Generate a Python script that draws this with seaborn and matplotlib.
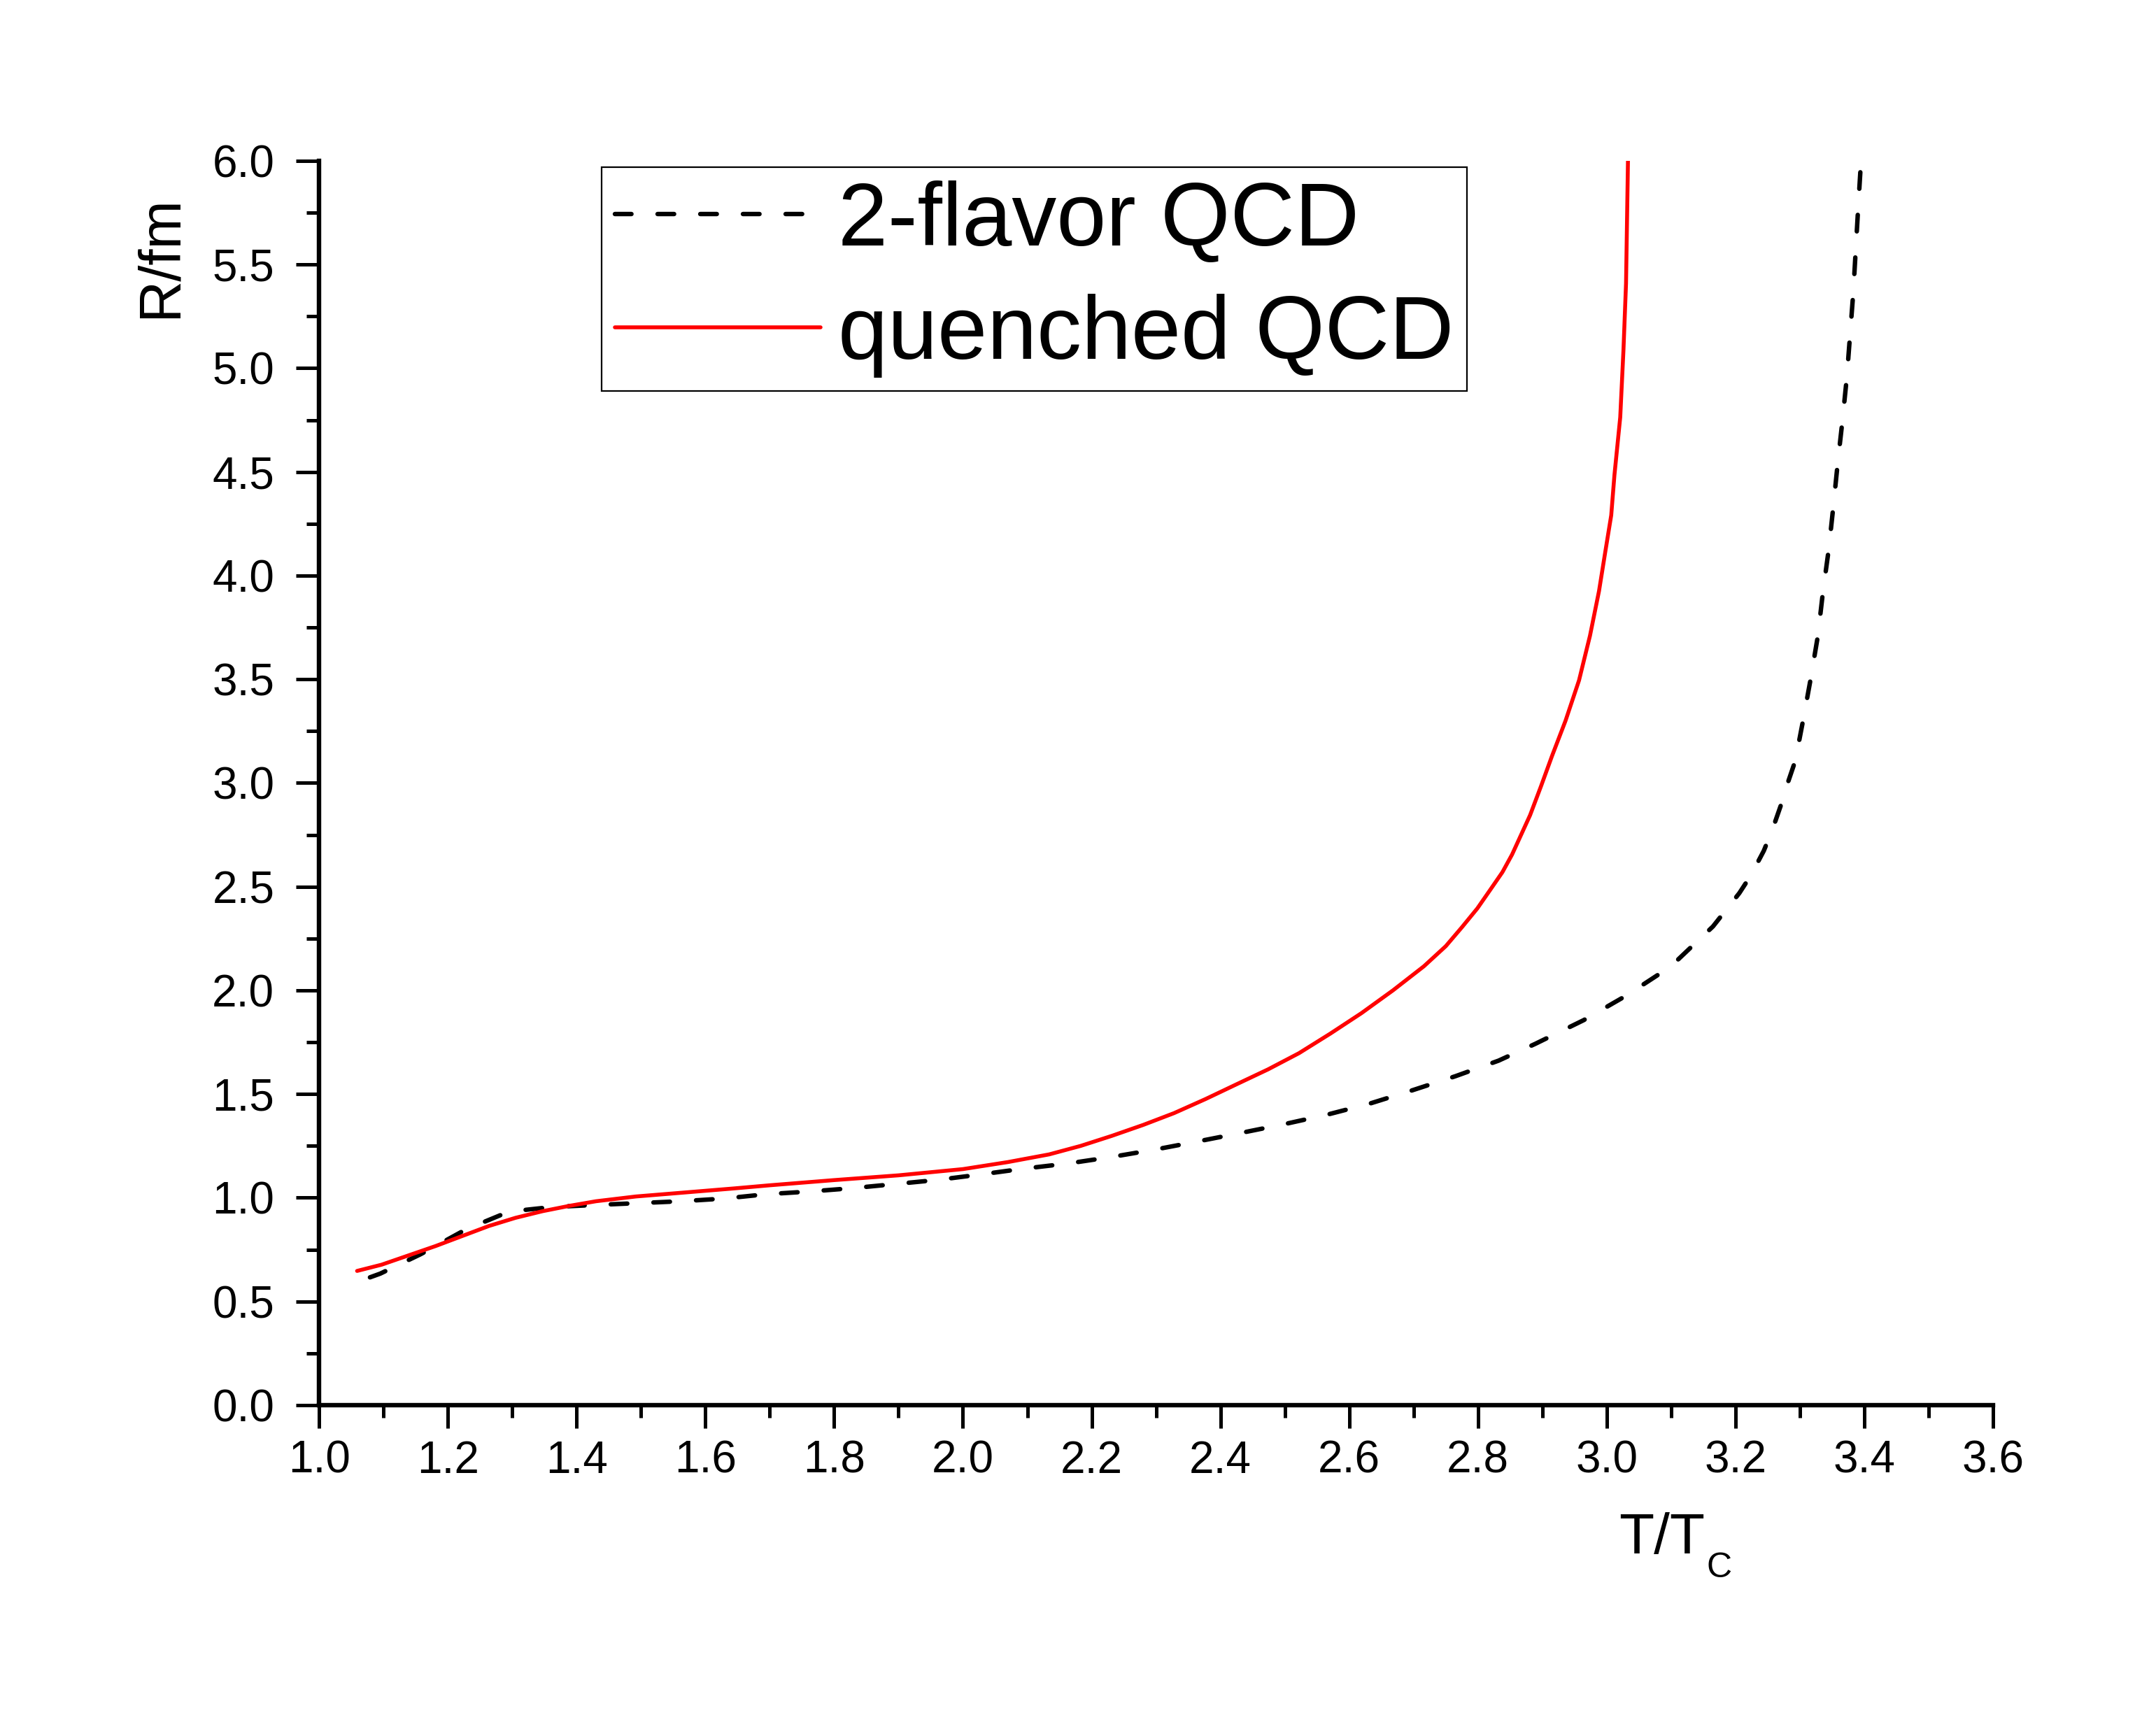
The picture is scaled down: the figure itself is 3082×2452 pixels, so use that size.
import matplotlib
matplotlib.use("Agg")
import matplotlib.pyplot as plt
import seaborn as sns
import pandas as pd
from matplotlib.ticker import MultipleLocator, FormatStrFormatter

# ---- data ----
quenched_T = [1.059, 1.097, 1.139, 1.181, 1.222, 1.264, 1.305, 1.347, 1.389, 1.430,
              1.492, 1.555, 1.645, 1.70, 1.80, 1.90, 2.00, 2.07, 2.134, 2.183, 2.231,
              2.280, 2.328, 2.377, 2.425, 2.474, 2.522, 2.571, 2.619, 2.668, 2.716,
              2.750, 2.775, 2.799, 2.818, 2.838, 2.853, 2.881, 2.898, 2.915, 2.936,
              2.957, 2.974, 2.988, 2.998, 3.007, 3.012, 3.021, 3.026, 3.030, 3.033]
quenched_R = [0.647, 0.677, 0.722, 0.767, 0.815, 0.864, 0.903, 0.935, 0.961, 0.983,
              1.006, 1.022, 1.045, 1.060, 1.085, 1.108, 1.138, 1.172, 1.209, 1.250, 1.298,
              1.351, 1.408, 1.476, 1.547, 1.619, 1.697, 1.792, 1.890, 2.000, 2.116,
              2.213, 2.304, 2.395, 2.480, 2.570, 2.655, 2.845, 2.985, 3.130, 3.300,
              3.495, 3.710, 3.925, 4.119, 4.291, 4.485, 4.764, 5.087, 5.409, 6.0]

flavor2_T = [1.079, 1.095, 1.158, 1.228, 1.295, 1.361, 1.428, 1.496, 1.562, 1.629,
             1.695, 1.762, 1.828, 1.895, 1.961, 2.027, 2.094, 2.163, 2.230, 2.298,
             2.364, 2.431, 2.498, 2.565, 2.631, 2.698, 2.765, 2.832, 2.889, 2.964,
             3.030, 3.099, 3.165, 3.206, 3.224, 3.244, 3.258, 3.270, 3.279, 3.293,
             3.305, 3.317, 3.328, 3.336, 3.345, 3.352, 3.359, 3.366, 3.373, 3.378,
             3.383, 3.387, 3.391, 3.395]
flavor2_R = [0.616, 0.634, 0.728, 0.847, 0.933, 0.955, 0.965, 0.974, 0.983, 0.996,
             1.017, 1.030, 1.046, 1.066, 1.086, 1.112, 1.140, 1.165, 1.196, 1.232,
             1.271, 1.312, 1.354, 1.400, 1.453, 1.518, 1.586, 1.661, 1.742, 1.856,
             1.974, 2.114, 2.308, 2.469, 2.555, 2.673, 2.781, 2.888, 2.980, 3.108,
             3.302, 3.506, 3.710, 3.925, 4.130, 4.334, 4.549, 4.743, 4.958, 5.162,
             5.366, 5.582, 5.797, 6.0]

series_labels = ["2-flavor QCD", "quenched QCD"]
x_label_main = "T/T"
x_label_sub = "C"
y_label = "R/fm"

# ---- style ----
sns.set_style("ticks")
plt.rcParams['font.family'] = ['Liberation Sans', 'DejaVu Sans']
for k in ['text.color', 'axes.labelcolor', 'xtick.color', 'ytick.color', 'axes.edgecolor']:
    plt.rcParams[k] = 'black'

fig = plt.figure(figsize=(15.41, 12.26), dpi=200)
ax = fig.add_axes([0.148, 0.1807, 0.7764, 0.7255])

df2 = pd.DataFrame({"T": flavor2_T, "R": flavor2_R})
dfq = pd.DataFrame({"T": quenched_T, "R": quenched_R})

sns.lineplot(data=df2, x="T", y="R", ax=ax, color="black", linewidth=2.3,
             estimator=None, sort=False, label=series_labels[0])
sns.lineplot(data=dfq, x="T", y="R", ax=ax, color="#ff0000", linewidth=2.0,
             estimator=None, sort=False, label=series_labels[1])

l2 = ax.lines[0]
l2.set_linestyle((0, (3.7, 5.85)))
l2.set_dash_capstyle('round')

ax.set_xlim(1.0, 3.6)
ax.set_ylim(0.0, 6.0)
ax.xaxis.set_major_locator(MultipleLocator(0.2))
ax.xaxis.set_minor_locator(MultipleLocator(0.1))
ax.yaxis.set_major_locator(MultipleLocator(0.5))
ax.yaxis.set_minor_locator(MultipleLocator(0.25))
ax.xaxis.set_major_formatter(FormatStrFormatter('%.1f'))
ax.yaxis.set_major_formatter(FormatStrFormatter('%.1f'))

sns.despine(ax=ax)
for s in ['left', 'bottom']:
    ax.spines[s].set_linewidth(2.3)
    ax.spines[s].set_color('black')

ax.tick_params(which='major', direction='out', length=12, width=1.8,
               labelsize=23, colors='black')
ax.tick_params(which='minor', direction='out', length=6.5, width=1.8, colors='black')
ax.tick_params(axis='x', which='major', pad=6)
ax.tick_params(axis='y', which='major', pad=11)

ax.set_xlabel(x_label_main, fontsize=29.5, color='black', ha='right', va='baseline')
ax.xaxis.set_label_coords(0.8278, -0.1194)
ax.text(0.829, -0.1383, x_label_sub, transform=ax.transAxes, fontsize=18,
        ha='left', va='baseline', color='black')
ax.set_ylabel(y_label, fontsize=30, color='black')
ax.yaxis.set_label_coords(-0.0785, 0.923)

handles, labels = ax.get_legend_handles_labels()
leg = ax.legend(handles, labels, loc='center', bbox_to_anchor=(0.4274, 0.905),
                fontsize=46, frameon=True, fancybox=False, edgecolor='black',
                framealpha=1, borderpad=0.145, labelspacing=0.33,
                handlelength=2.3, handletextpad=0.2, borderaxespad=0)
leg.get_frame().set_linewidth(0.8)
for t in leg.get_texts():
    t.set_color('black')

fig.savefig("out.png", dpi=200, facecolor='white')
